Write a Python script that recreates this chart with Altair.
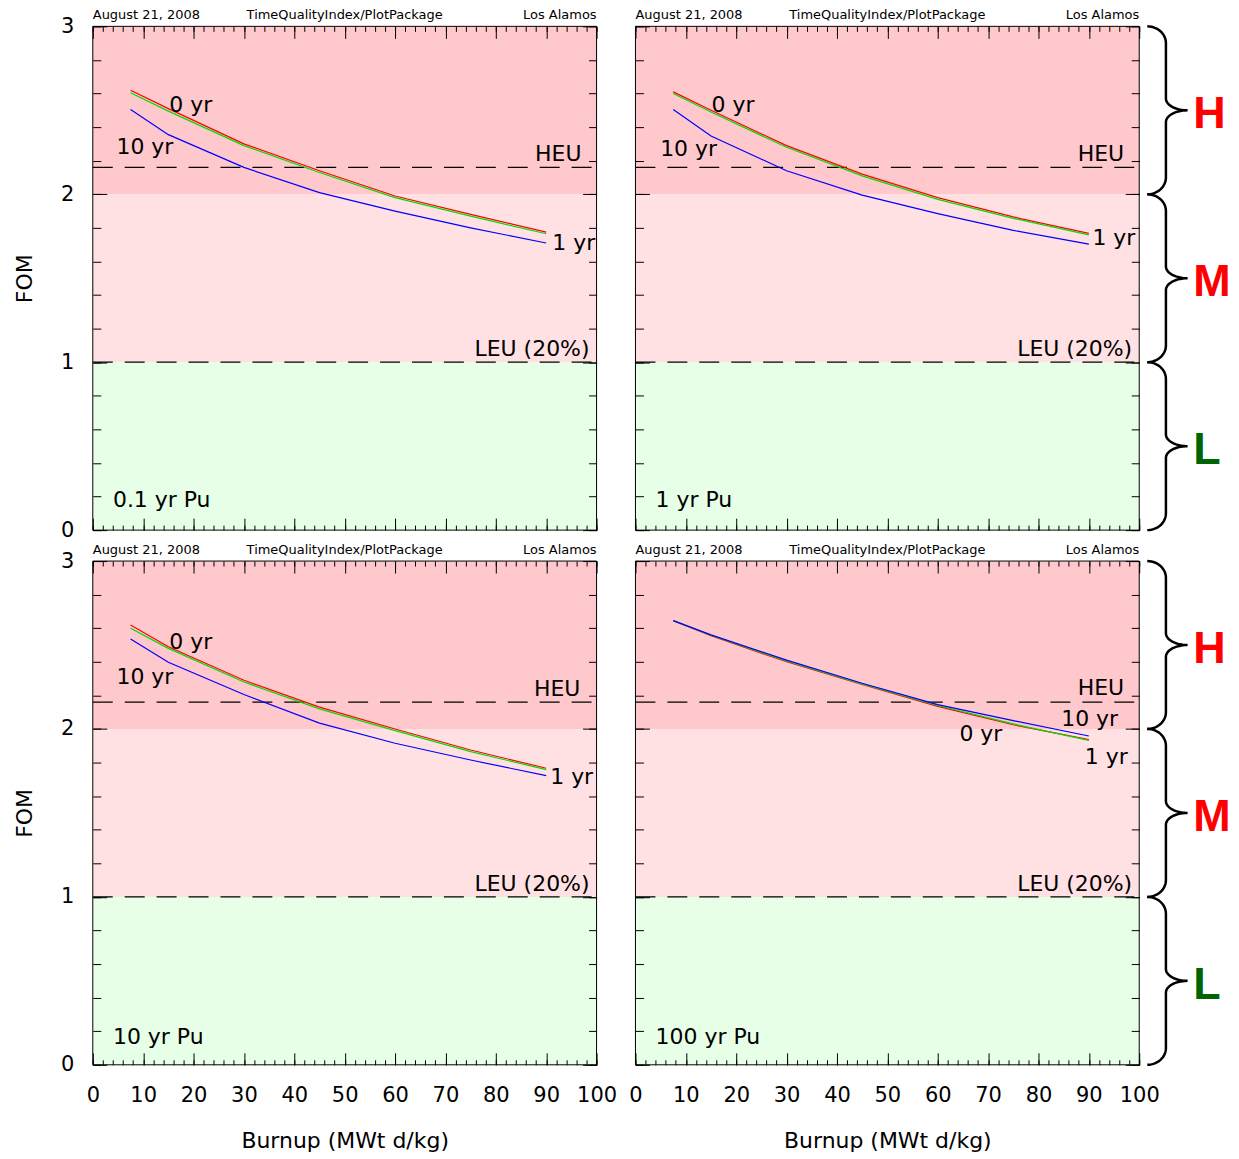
import math
import altair as alt
import pandas as pd

# ---------------- data ----------------
burnup = [7.5, 15, 30, 45, 60, 75, 90]
ages = ["0 yr", "1 yr", "10 yr"]
panel_titles = ["0.1 yr Pu", "1 yr Pu", "10 yr Pu", "100 yr Pu"]

pu01_age0 = [2.62, 2.51, 2.30, 2.14, 1.99, 1.88, 1.775]
pu01_age1 = [2.605, 2.495, 2.29, 2.13, 1.98, 1.87, 1.765]
pu01_age10 = [2.505, 2.355, 2.16, 2.01, 1.90, 1.80, 1.71]

pu1_age0 = [2.61, 2.50, 2.29, 2.12, 1.98, 1.865, 1.767]
pu1_age1 = [2.60, 2.49, 2.28, 2.11, 1.97, 1.857, 1.758]
pu1_age10 = [2.505, 2.347, 2.14, 1.995, 1.885, 1.785, 1.703]

pu10_age0 = [2.619, 2.49, 2.29, 2.13, 2.00, 1.875, 1.766]
pu10_age1 = [2.60, 2.48, 2.28, 2.12, 1.99, 1.865, 1.758]
pu10_age10 = [2.536, 2.397, 2.205, 2.035, 1.915, 1.815, 1.722]

pu100_age0 = [2.645, 2.555, 2.40, 2.265, 2.135, 2.025, 1.937]
pu100_age1 = [2.645, 2.558, 2.405, 2.268, 2.14, 2.03, 1.932]
pu100_age10 = [2.645, 2.56, 2.41, 2.272, 2.145, 2.05, 1.958]

series_by_panel = [
    [pu01_age0, pu01_age1, pu01_age10],
    [pu1_age0, pu1_age1, pu1_age10],
    [pu10_age0, pu10_age1, pu10_age10],
    [pu100_age0, pu100_age1, pu100_age10],
]

band_lo = [0, 1, 2]
band_hi = [1, 2, 3]
band_names = ["L", "M", "H"]
heu_fom = 2.16
leu_fom = 1.0
header_texts = ["August 21, 2008", "TimeQualityIndex/PlotPackage", "Los Alamos"]
x_title = "Burnup (MWt d/kg)"
y_title = "FOM"

x_major = list(range(0, 101, 10))
x_minor = list(range(0, 101, 2))
y_major = [0, 1, 2, 3]
y_minor = [round(0.2 * i, 1) for i in range(16)]

# annotation labels: (text, x, y) in data units
labels_left = [
    [("0 yr", 15.2, 2.535), ("10 yr", 4.7, 2.288), ("1 yr", 91.2, 1.717), ("0.1 yr Pu", 4.0, 0.184)],
    [("0 yr", 15.1, 2.535), ("10 yr", 4.9, 2.277), ("1 yr", 90.7, 1.743), ("1 yr Pu", 4.0, 0.184)],
    [("0 yr", 15.2, 2.525), ("10 yr", 4.7, 2.317), ("1 yr", 90.8, 1.721), ("10 yr Pu", 4.0, 0.173)],
    [("0 yr", 64.3, 1.977), ("1 yr", 89.2, 1.840), ("100 yr Pu", 4.0, 0.173)],
]
labels_right = [
    [("HEU", 97.0, 2.246), ("LEU (20%)", 98.6, 1.087)],
    [("HEU", 97.0, 2.246), ("LEU (20%)", 98.6, 1.087)],
    [("HEU", 96.8, 2.244), ("LEU (20%)", 98.6, 1.083)],
    [("HEU", 97.0, 2.252), ("10 yr", 95.8, 2.063), ("LEU (20%)", 98.6, 1.083)],
]

# ---------------- style ----------------
FONT = "DejaVu Sans"
W = 505
H = 505
age_colors = ["#ff0000", "#00dd00", "#0000ff"]
band_fill = {"L": "#e6ffe6", "M": "#ffe1e4", "H": "#ffc8cc"}
letter_color = {"L": "#006400", "M": "#ff0000", "H": "#ff0000"}

XS = alt.Scale(domain=[0, 100], nice=False, zero=False)
YS = alt.Scale(domain=[0, 3], nice=False, zero=False)

dummy = pd.DataFrame({"x": [0, 100], "y": [0, 3]})
one = pd.DataFrame({"k": [0]})


def tick_axis_x(orient, values, size):
    ax = alt.Axis(orient=orient, values=values, tickSize=size, offset=-size, domain=False,
                  labels=False, ticks=True, tickColor="black", tickWidth=1, grid=False,
                  title=None, zindex=2)
    return alt.Chart(dummy).mark_point(opacity=0).encode(
        x=alt.X("x:Q", scale=XS, axis=ax), y=alt.Y("y:Q", scale=YS, axis=None))


def tick_axis_y(orient, values, size):
    ax = alt.Axis(orient=orient, values=values, tickSize=size, offset=-size, domain=False,
                  labels=False, ticks=True, tickColor="black", tickWidth=1, grid=False,
                  title=None, zindex=2)
    return alt.Chart(dummy).mark_point(opacity=0).encode(
        y=alt.Y("y:Q", scale=YS, axis=ax), x=alt.X("x:Q", scale=XS, axis=None))


def brace_points(lo, hi, xe, xs, xt, ry1, ry2, n=14):
    ym = (lo + hi) / 2
    pts = []
    for k in range(n + 1):
        a = math.pi / 2 * (1 - k / n)
        pts.append((xe + (xs - xe) * math.cos(a), hi - ry1 + ry1 * math.sin(a)))
    for k in range(n + 1):
        a = math.pi + math.pi / 2 * k / n
        pts.append((xt + (xt - xs) * math.cos(a), ym + ry2 + ry2 * math.sin(a)))
    for k in range(n + 1):
        a = math.pi / 2 + math.pi / 2 * k / n
        pts.append((xt + (xt - xs) * math.cos(a), ym - ry2 + ry2 * math.sin(a)))
    for k in range(n + 1):
        a = -math.pi / 2 * k / n
        pts.append((xe + (xs - xe) * math.cos(a), lo + ry1 + ry1 * math.sin(a)))
    return pts


def panel(idx, show_x, show_y, braces):
    layers = []
    bands = pd.DataFrame({"lo": band_lo, "hi": band_hi,
                          "fillc": [band_fill[n] for n in band_names]})
    layers.append(alt.Chart(bands).mark_rect().encode(
        x=alt.XDatum(0, scale=XS, axis=None), x2=alt.X2Datum(100),
        y=alt.Y("lo:Q", scale=YS, axis=None), y2="hi:Q",
        fill=alt.Fill("fillc:N", scale=None)))

    refs = pd.DataFrame({"v": [heu_fom, leu_fom]})
    layers.append(alt.Chart(refs).mark_rule(strokeDash=[20, 12], color="black", strokeWidth=1.2).encode(
        x=alt.XDatum(0, scale=XS, axis=None), x2=alt.X2Datum(100),
        y=alt.Y("v:Q", scale=YS, axis=None)))

    rows = []
    for age, vals in zip(ages, series_by_panel[idx]):
        for b, f in zip(burnup, vals):
            rows.append({"b": b, "f": f, "age": age})
    df = pd.DataFrame(rows)
    layers.append(alt.Chart(df).mark_line(strokeWidth=1.2).encode(
        x=alt.X("b:Q", scale=XS, axis=None), y=alt.Y("f:Q", scale=YS, axis=None),
        stroke=alt.Stroke("age:N", scale=alt.Scale(domain=ages, range=age_colors), legend=None)))

    for lab, al in ((labels_left[idx], "left"), (labels_right[idx], "right")):
        ldf = pd.DataFrame(lab, columns=["t", "x", "y"])
        layers.append(alt.Chart(ldf).mark_text(font=FONT, fontSize=22, align=al, baseline="middle",
                                               dy=1, color="black").encode(
            x=alt.X("x:Q", scale=XS, axis=None), y=alt.Y("y:Q", scale=YS, axis=None), text="t:N"))

    for t, xv, al in zip(header_texts, [0, 50, 100], ["left", "center", "right"]):
        hdf = pd.DataFrame({"t": [t]})
        layers.append(alt.Chart(hdf).mark_text(font=FONT, fontSize=13, align=al, baseline="alphabetic",
                                               dy=-7, color="black", clip=False).encode(
            x=alt.XDatum(xv, scale=XS, axis=None), y=alt.YDatum(3, scale=YS, axis=None), text="t:N"))

    layers.append(alt.Chart(one).mark_rect(fill="transparent", stroke="black", strokeWidth=1).encode(
        x=alt.XDatum(0, scale=XS, axis=None), x2=alt.X2Datum(100),
        y=alt.YDatum(0, scale=YS, axis=None), y2=alt.Y2Datum(3)))

    if braces:
        brow = []
        for lo, hi, nm in zip(band_lo, band_hi, band_names):
            for i, (bx, by) in enumerate(brace_points(lo, hi, 101.6, 105.3, 109.6, 0.10, 0.07)):
                brow.append({"bx": bx, "by": by, "i": i, "bid": nm})
        bdf = pd.DataFrame(brow)
        layers.append(alt.Chart(bdf).mark_line(color="black", strokeWidth=2.5, clip=False).encode(
            x=alt.X("bx:Q", scale=XS, axis=None), y=alt.Y("by:Q", scale=YS, axis=None),
            detail="bid:N", order="i:Q"))
        ltr = pd.DataFrame({"t": band_names, "y": [(a + b) / 2 for a, b in zip(band_lo, band_hi)],
                            "c": [letter_color[n] for n in band_names]})
        layers.append(alt.Chart(ltr).mark_text(font="Liberation Sans", fontSize=45, fontWeight="bold",
                                               align="left", baseline="middle", dy=4, clip=False).encode(
            x=alt.XDatum(110.7, scale=XS, axis=None), y=alt.Y("y:Q", scale=YS, axis=None),
            text="t:N", color=alt.Color("c:N", scale=None)))

    layers.append(tick_axis_x("top", x_major, 12))
    layers.append(tick_axis_x("top", x_minor, 5))
    layers.append(tick_axis_x("bottom", x_major, 12))
    layers.append(tick_axis_x("bottom", x_minor, 5))
    layers.append(tick_axis_y("left", y_major, 14))
    layers.append(tick_axis_y("left", y_minor, 8))
    layers.append(tick_axis_y("right", y_major, 14))
    layers.append(tick_axis_y("right", y_minor, 8))

    if show_x:
        ax = alt.Axis(orient="bottom", values=x_major, ticks=False, tickSize=0, domain=False,
                      labels=True, labelFont=FONT, labelFontSize=21, labelColor="black",
                      labelPadding=20, labelFlush=False, labelOverlap=False, grid=False,
                      title=x_title, titleFont=FONT, titleFontSize=22, titleFontWeight="normal",
                      titleColor="black", titlePadding=25, zindex=2)
        layers.append(alt.Chart(dummy).mark_point(opacity=0).encode(
            x=alt.X("x:Q", scale=XS, axis=ax), y=alt.Y("y:Q", scale=YS, axis=None)))
    if show_y:
        ax = alt.Axis(orient="left", values=y_major, ticks=False, tickSize=0, domain=False,
                      labels=True, labelFont=FONT, labelFontSize=21, labelColor="black",
                      labelPadding=19, labelFlush=False, labelOverlap=False, grid=False,
                      title=y_title, titleFont=FONT, titleFontSize=22, titleFontWeight="normal",
                      titleColor="black", titlePadding=24, zindex=2)
        layers.append(alt.Chart(dummy).mark_point(opacity=0).encode(
            y=alt.Y("y:Q", scale=YS, axis=ax), x=alt.X("x:Q", scale=XS, axis=None)))

    return alt.layer(*layers).resolve_axis(x="independent", y="independent").properties(width=W, height=H)


p1 = panel(0, False, True, False)
p2 = panel(1, False, False, True)
p3 = panel(2, True, True, False)
p4 = panel(3, True, False, True)

chart = alt.concat(p1, p2, p3, p4, columns=2, spacing={"row": 31, "column": 39},
                   bounds="flush").properties(
    padding={"left": 5, "top": 0, "right": 0, "bottom": 0}, background="white"
).configure_view(strokeWidth=0)

chart.save("out.html", embed_options={"renderer": "svg", "actions": False})
